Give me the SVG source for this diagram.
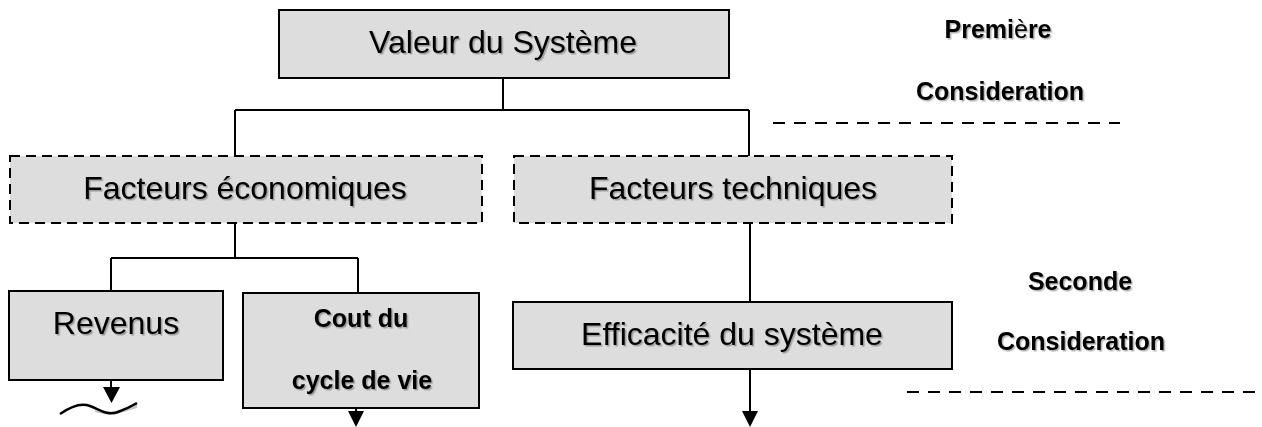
<svg xmlns="http://www.w3.org/2000/svg" width="1262" height="427" viewBox="0 0 1262 427">
<defs>
<style>
.box{fill:#dddddd;stroke:#000;stroke-width:2}
.dbox{fill:#dddddd;stroke:#000;stroke-width:2;stroke-dasharray:10 6}
.t{font-family:"Liberation Sans",Arial,sans-serif;font-size:32px;fill:#000;text-anchor:middle;filter:url(#sh)}
.b{font-family:"Liberation Sans",Arial,sans-serif;font-size:25px;font-weight:bold;fill:#000;text-anchor:middle;filter:url(#sh)}
.ln{fill:none;stroke:#000;stroke-width:2}
.sep{fill:none;stroke:#000;stroke-width:2;stroke-dasharray:12 9}
</style>
<filter id="sh" x="-5%" y="-20%" width="110%" height="140%">
<feDropShadow dx="1.5" dy="1.5" stdDeviation="0.7" flood-color="#000" flood-opacity="0.3"/>
</filter>
</defs>
<g id="connectors">
<path class="ln" d="M503,78 V110 M235,110 H749 M235,110 V156 M749,110 V156"/>
<path class="ln" d="M235,223 V258 M111,258 H358 M111,258 V291 M358,258 V292"/>
<path class="ln" d="M750,223 V302"/>
<path d="M111,380 V388" class="ln"/>
<path d="M103,387 L120,387 L111.5,403 Z" fill="#000"/>
<path d="M357,385 L356,412" class="ln"/>
<path d="M348,411 L364,411 L356,427 Z" fill="#000"/>
<path d="M750,369 V412" class="ln"/>
<path d="M742,411 L758,411 L750,427 Z" fill="#000"/>
</g>
<g id="wave">
<path d="M95,410 C110,416 125,407 137,403 L137,408 C125,411 112,418 95,412 Z" fill="#c8c8c8"/>
<path fill="none" stroke="#000" stroke-width="2.5" d="M60,414 C70,407 80,402 90,406 C100,410 108,416 118,412 C126,409 132,406 137,403"/>
</g>
<g id="valeur">
<rect class="box" x="279" y="10" width="450" height="68"/>
<text class="t" x="503" y="53">Valeur du Système</text>
</g>
<g id="eco">
<rect class="dbox" x="10" y="156" width="472" height="67"/>
<text class="t" x="245" y="199">Facteurs économiques</text>
</g>
<g id="tech">
<rect class="dbox" x="514" y="156" width="438" height="67"/>
<text class="t" x="733" y="199">Facteurs techniques</text>
</g>
<g id="revenus">
<rect class="box" x="9" y="291" width="214" height="89"/>
<text class="t" x="116" y="334">Revenus</text>
</g>
<g id="cout">
<rect class="box" x="243" y="293" width="236" height="115"/>
<text class="b" x="361" y="327">Cout du</text>
<text class="b" x="362" y="389">cycle de vie</text>
</g>
<g id="efficacite">
<rect class="box" x="513" y="302" width="439" height="67"/>
<text class="t" x="732" y="345">Efficacité du système</text>
</g>
<g id="premiere">
<text class="b" x="998" y="38">Premi<tspan font-weight="normal">è</tspan>re</text>
<text class="b" x="1000" y="100">Consideration</text>
<path class="sep" d="M773,123 H1120"/>
</g>
<g id="seconde">
<text class="b" x="1080" y="290">Seconde</text>
<text class="b" x="1081" y="350">Consideration</text>
<path class="sep" d="M907,392 H1262"/>
</g>
</svg>
